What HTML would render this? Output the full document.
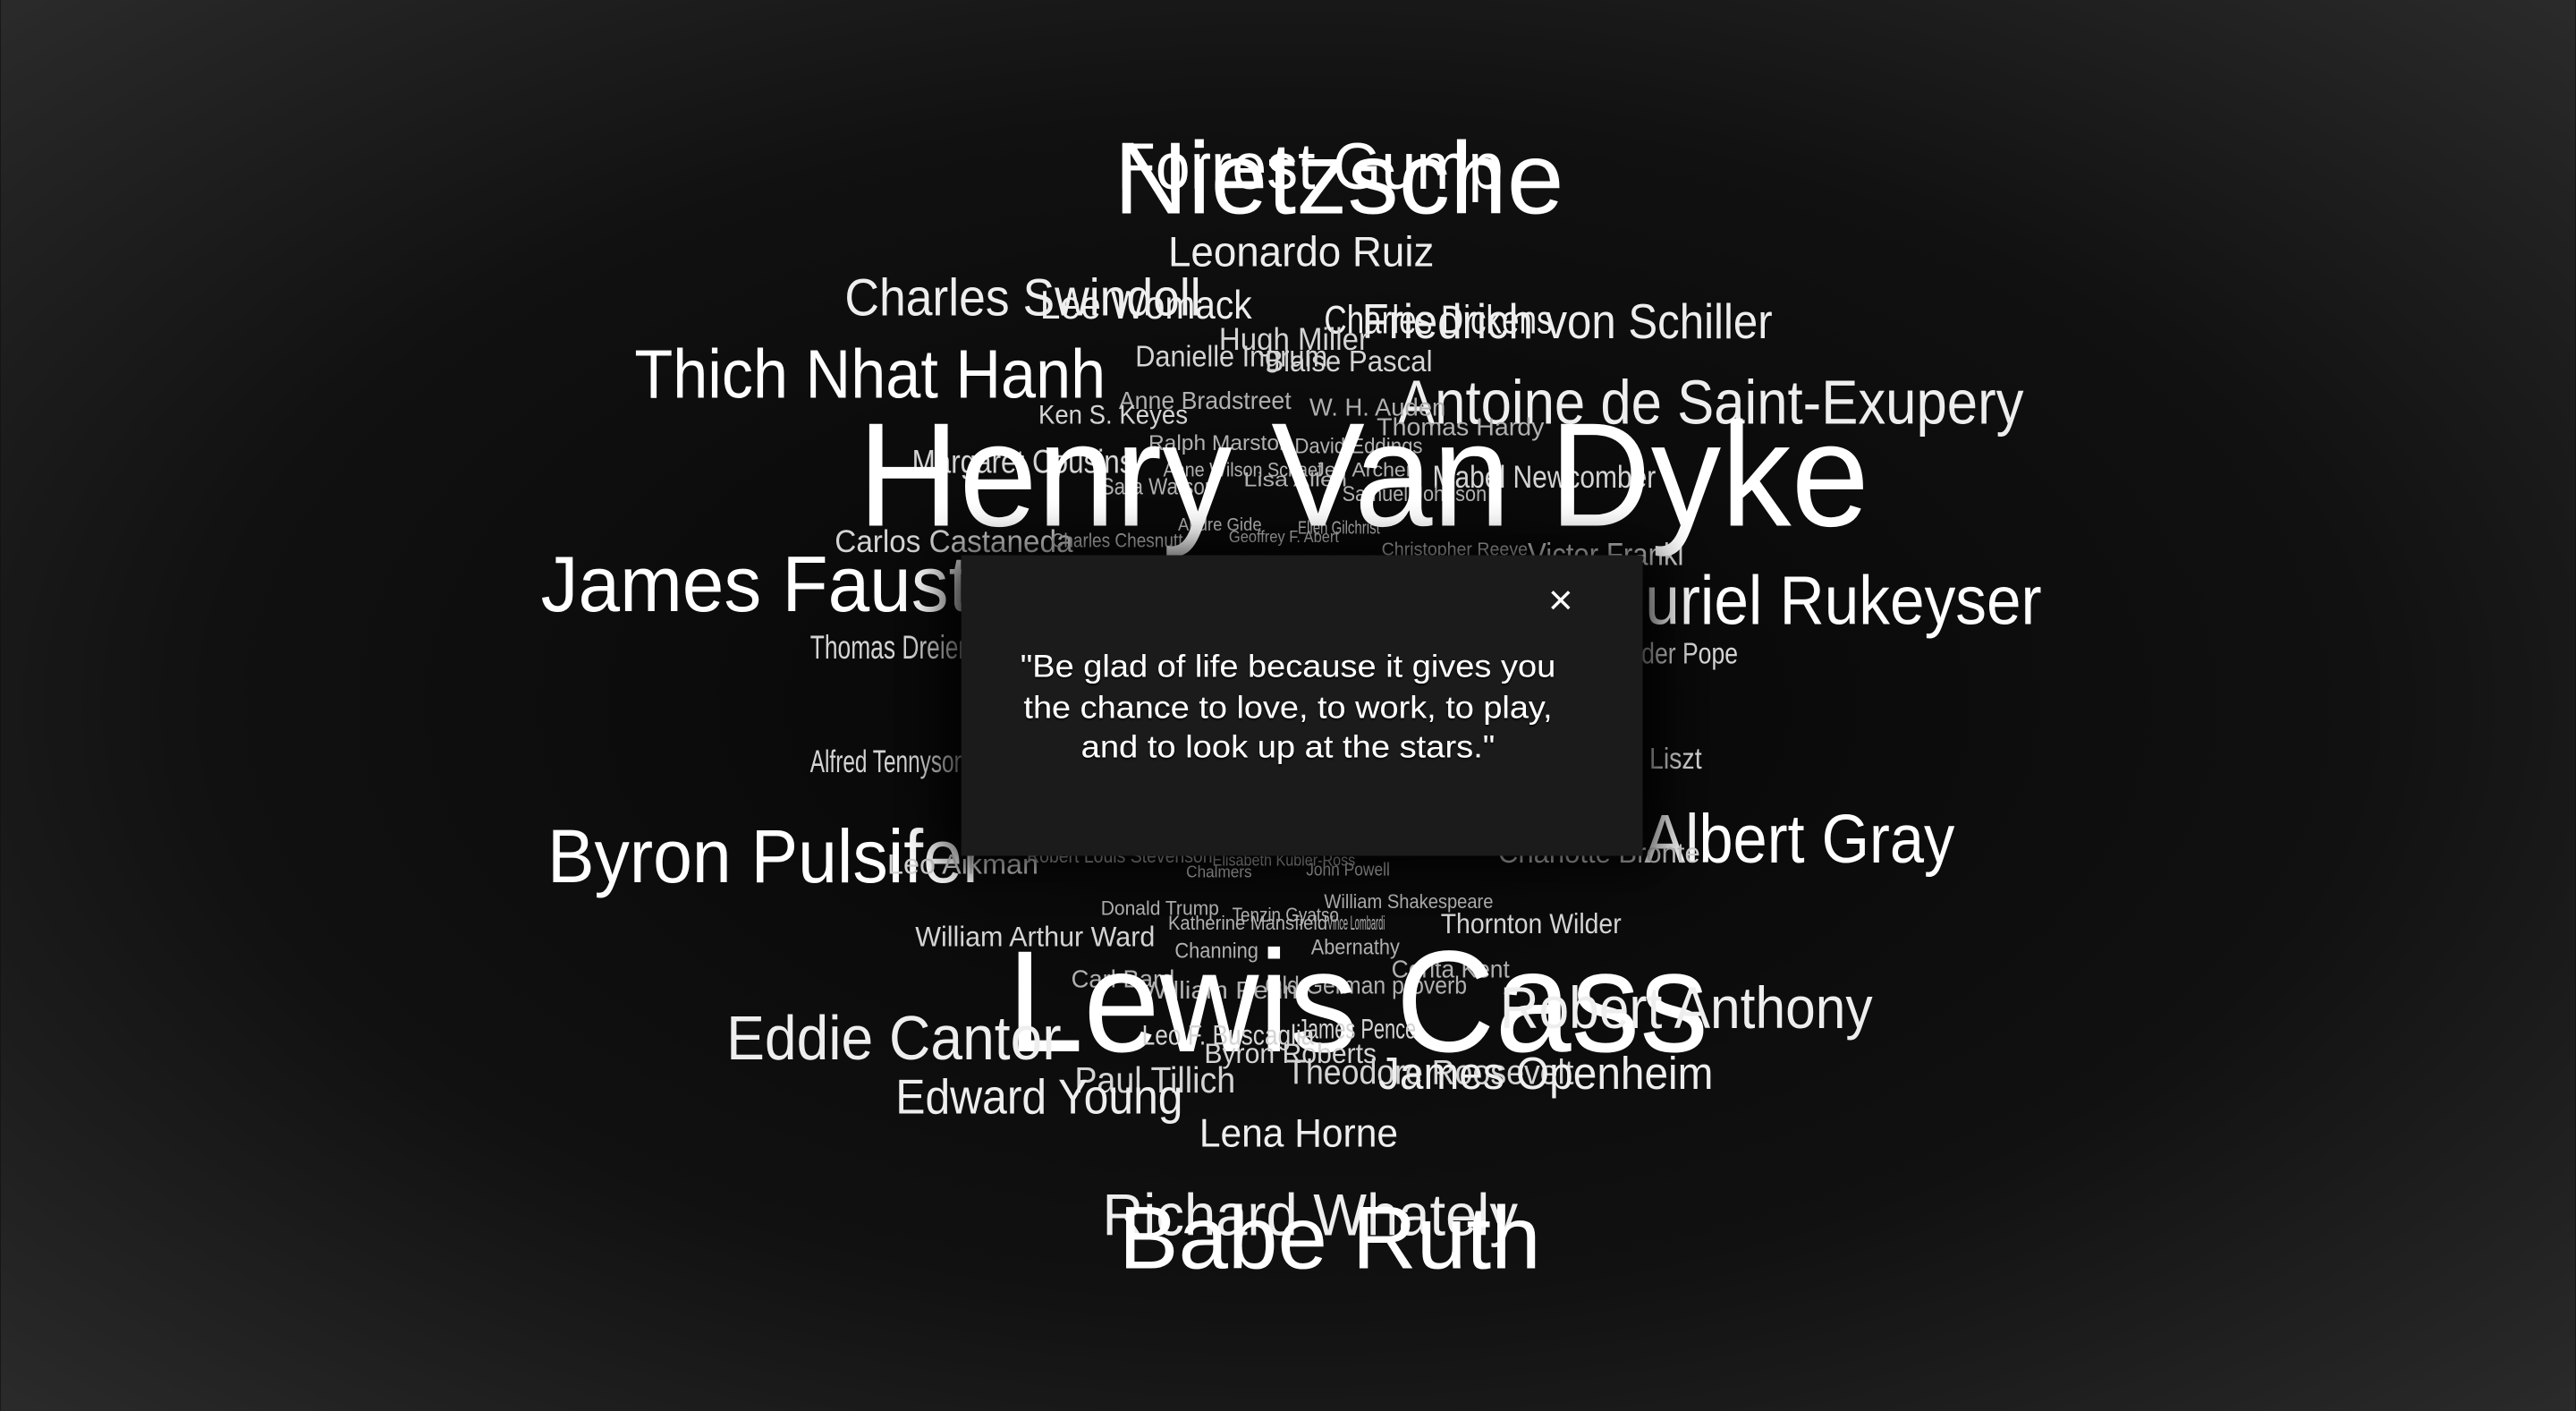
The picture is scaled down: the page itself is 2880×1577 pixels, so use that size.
<!DOCTYPE html>
<html><head><meta charset="utf-8">
<style>
html,body{margin:0;padding:0;width:2880px;height:1577px;overflow:hidden;background:#111;}
svg{display:block;}
</style></head>
<body>
<svg id="cloud" width="2880" height="1577" viewBox="0 0 1568 859" xmlns="http://www.w3.org/2000/svg">
<defs>
<radialGradient id="bg" cx="50%" cy="50%" r="70%">
<stop offset="0" stop-color="#050505"/>
<stop offset="0.6" stop-color="#111"/>
<stop offset="1" stop-color="#2a2a2a"/>
</radialGradient>
<filter id="sh" x="-30%" y="-40%" width="160%" height="180%"><feGaussianBlur stdDeviation="14"/></filter>
<filter id="ts"><feDropShadow dx="0" dy="1" stdDeviation="0.6" flood-color="#000" flood-opacity="0.9"/></filter>
</defs>
<rect width="1568" height="859" fill="url(#bg)"/>
<g id="words" font-family="'Liberation Sans', sans-serif"></g>
<rect x="575" y="335" width="435" height="192" fill="#000" opacity="0.9" filter="url(#sh)"/>
<rect x="585" y="338" width="415" height="183" fill="#1b1b1b"/>
<text x="950" y="374" font-family="'Liberation Sans', sans-serif" font-size="26" fill="#fff" text-anchor="middle">×</text>
<g font-family="'Liberation Sans', sans-serif" font-size="19" fill="#fff" text-anchor="middle" filter="url(#ts)">
<text x="784" y="412" textLength="326" lengthAdjust="spacingAndGlyphs">"Be glad of life because it gives you</text>
<text x="784" y="437" textLength="322" lengthAdjust="spacingAndGlyphs">the chance to love, to work, to play,</text>
<text x="784" y="461" textLength="252" lengthAdjust="spacingAndGlyphs">and to look up at the stars."</text>
</g>
</svg>
<script>
const names=["Forrest Gump","Nietzsche","Leonardo Ruiz","Charles Swindoll","Lee Womack","Charles Dickens","Friedrich von Schiller","Hugh Miller","Danielle Ingrum","Blaise Pascal","Thich Nhat Hanh","Antoine de Saint-Exupery","Anne Bradstreet","W. H. Auden","Ken S. Keyes","Thomas Hardy","Ralph Marston","David Eddings","Margaret Cousins","Anne Wilson Schaef","Jeff Archer","Lisa Allen","Mabel Newcomber","Sara Watson","Samuel Johnson","Carlos Castaneda","Charles Chesnutt","Andre Gide","Geoffrey F. Abert","Ellen Gilchrist","Christopher Reeve","Victor Frankl","James Faust","Muriel Rukeyser","Thomas Dreier","Alexander Pope","Alfred Tennyson","Franz Liszt","Byron Pulsifer","Albert Gray","Charlotte Bronte","Leo Aikman","Robert Louis Stevenson","Elisabeth Kubler-Ross","Chalmers","John Powell","Donald Trump","Tenzin Gyatso","William Shakespeare","Katherine Mansfield","Vince Lombardi","Thornton Wilder","William Arthur Ward","Channing","Abernathy","Corita Kent","Carl Bard","William Penn","Old German proverb","Henry Van Dyke","Lewis Cass","Robert Anthony","Eddie Cantor","Leo F. Buscaglia","James Pence","Byron Roberts","Theodore Roosevelt","James Openheim","Paul Tillich","Edward Young","Lena Horne","Richard Whately","Babe Ruth"];
const xs=[680,678,711,514,633,806,829,742,691,770,386,851,681,797,632,838,699,788,555,708,800,757,872,670,817,508,640,717,748,790,841,930,329,970,493,955,493,960,333,1001,912,540,625,738,722,795,670,750,806,711,808,877,557,715,798,847,652,695,770,522,613,913,442,695,790,733,783,839,654,545,730,671,681];
const ys=[115,130,162,192,194,203,206,213,223,226,242,258,249,253,258,265,274,276,288,290,290,296,297,301,305,336,333,323,330,325,338,344,372,380,401,404,470,468,537,525,525,532,525,527,534,533,557,561,553,566,566,568,576,583,581,595,601,608,605,320,640,626,645,636,632,647,660,663,665,678,698,752,772];
const sizes=[40,62,26,32,24,24,30,19,18,18,42,38,15,15,16,15,13,13,20,12,12,12,19,14,13,19,12,11,10,11,11,19,48,42,20,18,19,18,46,42,17,17,12,10,10,11,12,12,12,12,12,17,17,13,13,15,15,15,15,90,88,36,38,17,17,17,21,28,22,30,24,36,54];
const widths=[235,274,162,217,129,139,250,91,117,102,287,381,105,83,91,102,87,78,135,97,60,63,136,70,88,145,80,51,67,50,89,95,261,273,95,103,95,76,267,189,123,92,113,87,40,51,72,65,103,97,35,110,146,51,54,72,63,95,123,616,427,227,204,105,72,105,175,204,98,175,121,253,257];
const g=document.getElementById('words');
for(let i=0;i<names.length;i++){
  const t=document.createElementNS('http://www.w3.org/2000/svg','text');
  
  
  t.setAttribute('x',xs[i]);t.setAttribute('y',ys[i]);
  t.setAttribute('font-size',sizes[i]);
  t.setAttribute('textLength',widths[i]);
  t.setAttribute('lengthAdjust','spacingAndGlyphs');
  const s=sizes[i];
  t.setAttribute('fill',s>=40?'#ffffff':s>=24?'#eeeeee':s>=16?'#d4d4d4':'#b0b0b0');
  t.textContent=names[i];
  g.appendChild(t);
}
</script>
</body></html>
